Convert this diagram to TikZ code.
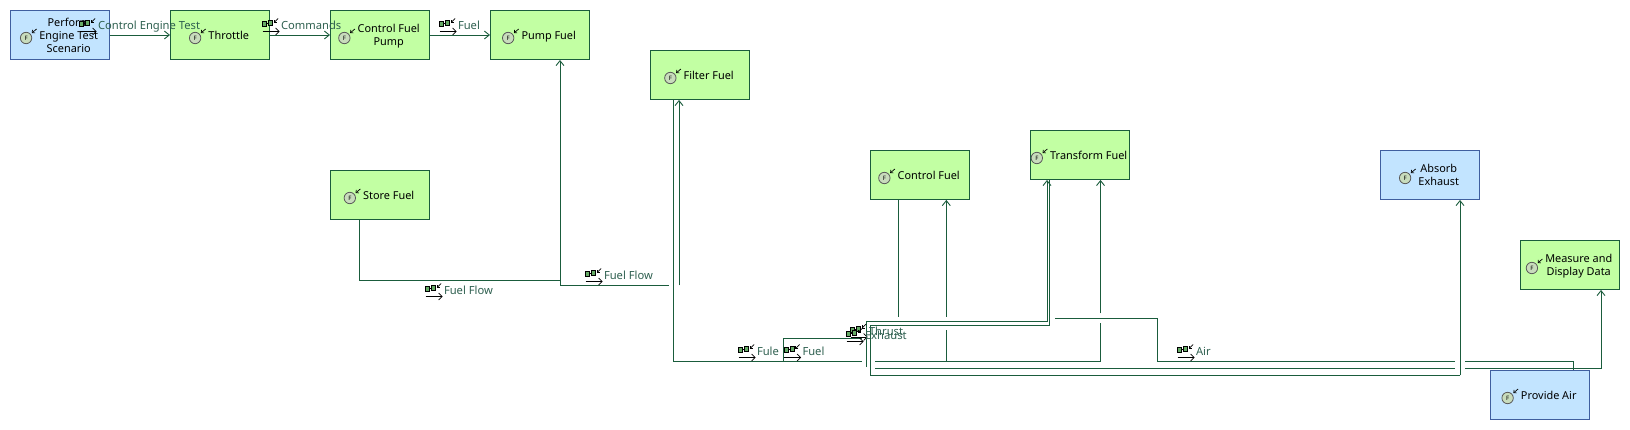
\documentclass[tikz,border=0pt]{standalone}
\usepackage{fontspec}
\setmainfont{Noto Sans}
\usetikzlibrary{arrows.meta}
\definecolor{flowgreen}{HTML}{1A5C3C}
\definecolor{boxgreen}{HTML}{C2FFA3}
\definecolor{boxblue}{HTML}{C2E4FF}
\definecolor{edgeblue}{HTML}{3F5F9F}
\definecolor{labelgreen}{HTML}{2F6050}
\definecolor{iconfill}{HTML}{C8DCBC}
\newcommand{\ficon}{\raisebox{0pt}[0pt][0pt]{\tikz[baseline=-1.5pt,x=1pt,y=1pt]{
    \draw[line width=.8pt,draw=black!65,fill=iconfill] (0,0) circle (5.7);
    \node[inner sep=0,minimum width=0pt,minimum height=0pt,draw=none,fill=none,text=black] at (0,0) {\fontsize{6}{6}\selectfont\bfseries F};
    \draw[line width=.7pt,black,-{Straight Barb[length=2pt,width=4pt]}] (10.5,9) -- (5.8,5);
}}\hspace{2.5pt}}
\newcommand{\dicon}{\tikz[baseline=2pt,x=1pt,y=1pt]{
    \draw[line width=.9pt,black,fill=green!45!black!60] (0,5) rectangle (4,10) (6,6) rectangle (10,11);
    \draw[line width=.9pt,black] (4,8) -- (6,8);
    \draw[line width=.7pt,black,-{Straight Barb[length=2pt,width=4pt]}] (15.5,13) -- (11,8.5);
    \draw[line width=.7pt,black,-{Straight Barb[length=3.5pt,width=7pt]}] (0,0) -- (17,0);
}\hspace{1pt}}
\newcommand{\ftext}[1]{\raisebox{-4.5pt}[0pt][0pt]{\ficon\begin{tabular}{@{}c@{}}#1\end{tabular}\hspace{2pt}}}
\begin{document}
\begin{tikzpicture}[
        x=1pt, y=-1pt,
        funcgreen/.style={rectangle, draw=flowgreen, line width=.9pt, fill=boxgreen, minimum width=99pt, minimum height=49pt, inner sep=0pt, font=\fontsize{10.9}{13}\selectfont},
        funcblue/.style={funcgreen, draw=edgeblue, fill=boxblue},
        flowlabel/.style={anchor=base west, inner sep=0pt, text=labelgreen, font=\fontsize{11.2}{13}\selectfont},
        flow/.style={draw=flowgreen, line width=.9pt},
        flowin/.style={flow, -{Straight Barb[length=5pt,width=8pt]}}
    ]

    % Function boxes
    \node[funcblue] at (60,35) (perform) {\ftext{Perform\\Engine Test\\Scenario}};
    \node[funcgreen] at (220,35) (throttle) {\ftext{Throttle}};
    \node[funcgreen] at (380,35) (ctrlpump) {\ftext{Control Fuel\\Pump}};
    \node[funcgreen] at (540,35) (pumpfuel) {\ftext{Pump Fuel}};
    \node[funcgreen] at (700,75) (filter) {\ftext{Filter Fuel}};
    \node[funcgreen] at (380,195) (store) {\ftext{Store Fuel}};
    \node[funcgreen] at (920,175) (ctrlfuel) {\ftext{Control Fuel}};
    \node[funcgreen] at (1080,155) (transform) {\ftext{Transform Fuel}};
    \node[funcblue] at (1430,175) (absorb) {\ftext{Absorb\\Exhaust}};
    \node[funcgreen] at (1570,265) (measure) {\ftext{Measure and\\Display Data}};
    \node[funcblue] at (1540,395) (air) {\ftext{Provide Air}};

    % Bend points
    \coordinate (storejoin) at (560,280);
    \coordinate (filterfoot) at (673,361.3);
    \coordinate (fuelfork) at (783.5,361.3);
    \coordinate (thrustfoot) at (866,321.7);
    \coordinate (exhaustfoot) at (870,325.3);
    \coordinate (airfoot) at (1157,361.3);

    % Top row
    \draw[flowin] (perform) -- (throttle);
    \draw[flowin] (throttle) -- (ctrlpump);
    \draw[flowin] (ctrlpump) -- (pumpfuel);

    % Fuel flow
    \draw[flow] ([xshift=-20.5pt]store.south) |- (storejoin);
    \draw[flowin] (storejoin) -- ([xshift=20pt]pumpfuel.south);
    \draw[flow] (storejoin) -- (560,285.3) -- (669,285.3);
    \draw[flowin] (679,285.3) -- ([xshift=-21pt]filter.south);

    % Fuel on to the transform box
    \draw[flow] ([xshift=-27pt]filter.south) -- (filterfoot) -- (862,361.3);
    \draw[flow] (875,361.3) -- (1100.5,361.3) -- (1100.5,323.3);
    \draw[flowin] (1100.5,313.3) -- ([xshift=20.5pt]transform.south);
    \draw[flow] (fuelfork) -- (783.5,338.3) -- (861.7,338.3);

    % Control fuel
    \draw[flow] ([xshift=-22pt]ctrlfuel.south) -- (898,316.7);
    \draw[flow] (946.3,361.3) -- (946.3,330);
    \draw[flowin] (946.3,316.7) -- ([xshift=26.3pt]ctrlfuel.south);

    % Thrust
    \draw[flowin] (866,367) -- (thrustfoot) -- (1047,321.7) -- ([xshift=-33pt]transform.south);
    \draw[flow] (875,368.3) -- (1455,368.3);
    \draw[flowin] (1465,368.3) -| ([xshift=31pt]measure.south);

    % Exhaust
    \draw[flow] ([xshift=-30.5pt]transform.south) -- (1049.5,325.3) -- (exhaustfoot) -- (870,375.3) -- (1460,375.3);
    \draw[flowin] (1460,375.3) -- ([xshift=30pt]absorb.south);

    % Air
    \draw[flow] ([xshift=33pt]air.north) |- (1465,361.3);
    \draw[flow] (1455,361.3) -- (airfoot) -- (1157,318.3) -- (1055,318.3);

    % Labels
    \node[flowlabel] at (79,29.5) (lbltest) {\dicon Control Engine Test};
    \node[flowlabel] at (262,29.5) (lblcmd) {\dicon Commands};
    \node[flowlabel] at (439,29.5) (lblfuel) {\dicon Fuel};
    \node[flowlabel] at (425,294.5) (lblflowa) {\dicon Fuel Flow};
    \node[flowlabel] at (585,279.5) (lblflowb) {\dicon Fuel Flow};
    \node[flowlabel] at (738,355.5) (lblfule) {\dicon Fule};
    \node[flowlabel] at (783.5,355.5) (lblfuelb) {\dicon Fuel};
    \node[flowlabel] at (850,335) (lblthrust) {\dicon Thrust};
    \node[flowlabel] at (846,339.5) (lblexhaust) {\dicon Exhaust};
    \node[flowlabel] at (1177,355.5) (lblair) {\dicon Air};

    \useasboundingbox (0,0) rectangle (1630,430);
\end{tikzpicture}
\end{document}
